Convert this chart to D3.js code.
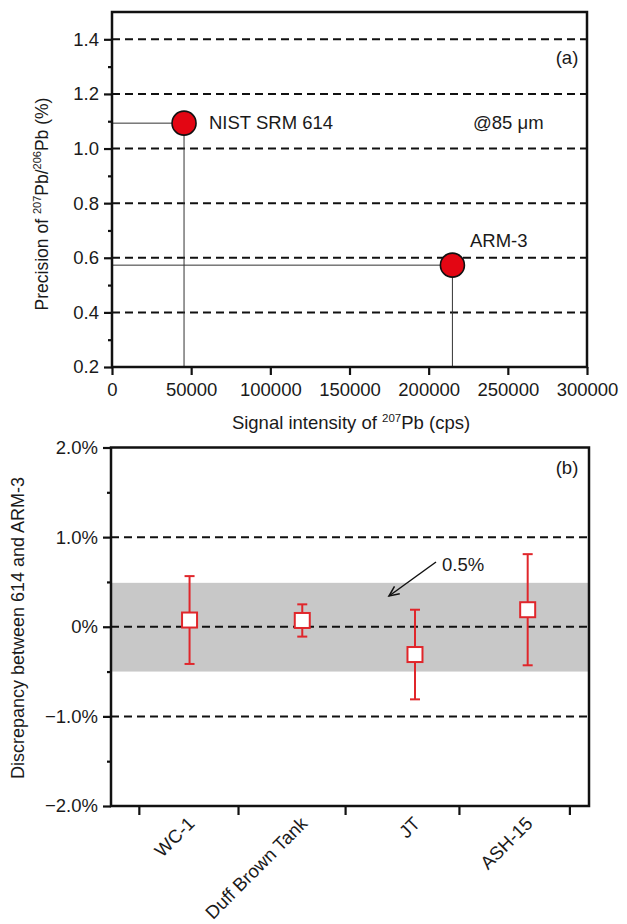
<!DOCTYPE html>
<html>
<head>
<meta charset="utf-8">
<script src="https://cdn.jsdelivr.net/npm/d3@7"></script>
<style>
  html, body { margin: 0; padding: 0; background: #fff; }
  svg { display: block; font-family: "Liberation Sans", Arial, sans-serif; }
  text { fill: #1a1a1a; }
</style>
</head>
<body>
<svg id="chart" width="627" height="924"></svg>
<script>
// ---------- Panel (a) data ----------
const refNames = ["NIST SRM 614", "ARM-3"];
const signalCps = [45500, 215000];
const precisionPct = [1.093, 0.573];
const xTicksA = [0, 50000, 100000, 150000, 200000, 250000, 300000];
const yTicksA = [0.2, 0.4, 0.6, 0.8, 1.0, 1.2, 1.4];
const yMinorA = [0.3, 0.5, 0.7, 0.9, 1.1, 1.3];
const gridA = [0.4, 0.6, 0.8, 1.0, 1.2, 1.4];

// ---------- Panel (b) data ----------
const samples = ["WC-1", "Duff Brown Tank", "JT", "ASH-15"];
const samplePos = [1, 2, 3, 4];
const discrepancy = [0.075, 0.07, -0.31, 0.19];
const errHalf = [0.49, 0.18, 0.50, 0.62];
const band = [-0.5, 0.49];
const xTickPosB = [0.55, 1.43, 2.38, 3.39, 4.37];
const yTicksB = [-2, -1, 0, 1, 2];
const yTickLabelsB = ["\u22122.0%", "\u22121.0%", "0%", "1.0%", "2.0%"];
const yMinorB = [-1.5, -0.5, 0.5, 1.5];
const gridB = [-1, 0, 1];

const svg = d3.select("#chart");
const FS = 18.5;
const RED = "#e30613";
const ERR = "#e0262b";

// ================= Panel (a) =================
const xA = d3.scaleLinear().domain([0, 300000]).range([112, 587]);
const yA = d3.scaleLinear().domain([0.2, 1.5]).range([367, 12]);
const gA = svg.append("g");

gA.selectAll("line.grid").data(gridA).join("line")
  .attr("x1", xA(0)).attr("x2", xA(300000))
  .attr("y1", d => yA(d)).attr("y2", d => yA(d))
  .attr("stroke", "#111").attr("stroke-width", 2).attr("stroke-dasharray", "8,5");

refNames.forEach((n, i) => {
  gA.append("line").attr("x1", xA(0)).attr("x2", xA(signalCps[i]))
    .attr("y1", yA(precisionPct[i])).attr("y2", yA(precisionPct[i]))
    .attr("stroke", "#333").attr("stroke-width", 1);
  gA.append("line").attr("x1", xA(signalCps[i])).attr("x2", xA(signalCps[i]))
    .attr("y1", yA(precisionPct[i])).attr("y2", yA(0.2))
    .attr("stroke", "#333").attr("stroke-width", 1);
});

const axA_x = d3.axisBottom(xA).tickValues(xTicksA).tickFormat(d3.format("d")).tickSize(8).tickSizeOuter(0).tickPadding(8);
const axA_y = d3.axisLeft(yA).tickValues(yTicksA).tickFormat(d3.format(".1f")).tickSize(8).tickSizeOuter(0).tickPadding(5);
const gxA = gA.append("g").attr("transform", `translate(0,${yA(0.2)})`).call(axA_x);
const gyA = gA.append("g").attr("transform", `translate(${xA(0)},0)`).call(axA_y);
gA.append("g").attr("transform", `translate(${xA(0)},0)`)
  .call(d3.axisLeft(yA).tickValues(yMinorA).tickFormat("").tickSize(4).tickSizeOuter(0));
[gxA, gyA].forEach(g => {
  g.selectAll("text").attr("font-size", FS).attr("fill", "#1a1a1a").attr("font-family", "Liberation Sans, Arial, sans-serif");
});
gA.selectAll(".tick line").attr("stroke", "#111").attr("stroke-width", 2.2);
gA.selectAll(".domain").attr("stroke", "none");

gA.append("rect").attr("x", xA(0)).attr("y", yA(1.5))
  .attr("width", xA(300000) - xA(0)).attr("height", yA(0.2) - yA(1.5))
  .attr("fill", "none").attr("stroke", "#111").attr("stroke-width", 2.5);

gA.selectAll("circle.pt").data(refNames).join("circle")
  .attr("cx", (d, i) => xA(signalCps[i])).attr("cy", (d, i) => yA(precisionPct[i]))
  .attr("r", 12).attr("fill", RED).attr("stroke", "#111").attr("stroke-width", 1.6);

gA.append("text").attr("x", 209).attr("y", 129).attr("font-size", FS).text(refNames[0]);
gA.append("text").attr("x", 470).attr("y", 247).attr("font-size", FS).text(refNames[1]);
gA.append("text").attr("x", 473).attr("y", 129).attr("font-size", FS).text("@85 \u03bcm");
gA.append("text").attr("x", 567).attr("y", 64).attr("font-size", FS).attr("text-anchor", "middle").text("(a)");

const xtA = gA.append("text").attr("x", 351).attr("y", 429).attr("font-size", FS).attr("text-anchor", "middle");
xtA.append("tspan").text("Signal intensity of ");
xtA.append("tspan").attr("font-size", 11.5).attr("dy", -7).text("207");
xtA.append("tspan").attr("dy", 7).text("Pb (cps)");

const ytA = gA.append("text").attr("transform", "translate(48,204) rotate(-90)").attr("font-size", 17.5).attr("text-anchor", "middle");
ytA.append("tspan").text("Precision of ");
ytA.append("tspan").attr("font-size", 11).attr("dy", -7).text("207");
ytA.append("tspan").attr("dy", 7).text("Pb/");
ytA.append("tspan").attr("font-size", 11).attr("dy", -7).text("206");
ytA.append("tspan").attr("dy", 7).text("Pb (%)");

// ================= Panel (b) =================
const xB = d3.scaleLinear().domain([0.303, 4.544]).range([111, 589]);
const yB = d3.scaleLinear().domain([-2, 2]).range([806, 447.5]);
const gB = svg.append("g");

gB.append("rect").attr("x", xB(0.303)).attr("y", yB(band[1]))
  .attr("width", xB(4.544) - xB(0.303)).attr("height", yB(band[0]) - yB(band[1]))
  .attr("fill", "#c8c8c8");

gB.selectAll("line.grid").data(gridB).join("line")
  .attr("x1", xB(0.303)).attr("x2", xB(4.544))
  .attr("y1", d => yB(d)).attr("y2", d => yB(d))
  .attr("stroke", "#111").attr("stroke-width", 2).attr("stroke-dasharray", "8,5");

const axB_y = d3.axisLeft(yB).tickValues(yTicksB).tickFormat((d, i) => yTickLabelsB[i]).tickSize(8).tickSizeOuter(0).tickPadding(5);
const gyB = gB.append("g").attr("transform", `translate(${xB(0.303)},0)`).call(axB_y);
gB.append("g").attr("transform", `translate(${xB(0.303)},0)`)
  .call(d3.axisLeft(yB).tickValues(yMinorB).tickFormat("").tickSize(4).tickSizeOuter(0));
gB.append("g").attr("transform", `translate(0,${yB(-2)})`)
  .call(d3.axisBottom(xB).tickValues(xTickPosB).tickFormat("").tickSize(9).tickSizeOuter(0));
const gxB = gB.append("g").attr("transform", `translate(0,${yB(-2)})`)
  .call(d3.axisBottom(xB).tickValues(samplePos).tickFormat((d, i) => samples[i]).tickSize(0).tickSizeOuter(0));
gxB.selectAll("text")
  .attr("text-anchor", "end")
  .attr("dy", "0.35em")
  .attr("transform", "translate(-1,12) rotate(-45)");
gyB.selectAll("text").attr("font-size", FS);
gxB.selectAll("text").attr("font-size", 18.5);
gB.selectAll("text").attr("fill", "#1a1a1a").attr("font-family", "Liberation Sans, Arial, sans-serif");
gB.selectAll(".tick line").attr("stroke", "#111").attr("stroke-width", 2.2);
gB.selectAll(".domain").attr("stroke", "none");

gB.append("rect").attr("x", xB(0.303)).attr("y", yB(2))
  .attr("width", xB(4.544) - xB(0.303)).attr("height", yB(-2) - yB(2))
  .attr("fill", "none").attr("stroke", "#111").attr("stroke-width", 2.5);

const eb = gB.selectAll("g.eb").data(samples).join("g");
eb.append("line")
  .attr("x1", (d, i) => xB(samplePos[i])).attr("x2", (d, i) => xB(samplePos[i]))
  .attr("y1", (d, i) => yB(discrepancy[i] + errHalf[i])).attr("y2", (d, i) => yB(discrepancy[i] - errHalf[i]))
  .attr("stroke", ERR).attr("stroke-width", 2);
eb.append("line")
  .attr("x1", (d, i) => xB(samplePos[i]) - 5).attr("x2", (d, i) => xB(samplePos[i]) + 5)
  .attr("y1", (d, i) => yB(discrepancy[i] + errHalf[i])).attr("y2", (d, i) => yB(discrepancy[i] + errHalf[i]))
  .attr("stroke", ERR).attr("stroke-width", 2);
eb.append("line")
  .attr("x1", (d, i) => xB(samplePos[i]) - 5).attr("x2", (d, i) => xB(samplePos[i]) + 5)
  .attr("y1", (d, i) => yB(discrepancy[i] - errHalf[i])).attr("y2", (d, i) => yB(discrepancy[i] - errHalf[i]))
  .attr("stroke", ERR).attr("stroke-width", 2);
eb.append("rect")
  .attr("x", (d, i) => xB(samplePos[i]) - 7.5).attr("y", (d, i) => yB(discrepancy[i]) - 7.5)
  .attr("width", 15).attr("height", 15)
  .attr("fill", "#fff").attr("stroke", ERR).attr("stroke-width", 2);

const arrowFrom = [436, 562], arrowTo = [389, 596];
gB.append("line").attr("x1", arrowFrom[0]).attr("y1", arrowFrom[1]).attr("x2", arrowTo[0]).attr("y2", arrowTo[1])
  .attr("stroke", "#111").attr("stroke-width", 1.5);
(function () {
  const ang = Math.atan2(arrowTo[1] - arrowFrom[1], arrowTo[0] - arrowFrom[0]);
  const L = 11, spread = 0.42;
  const p1 = [arrowTo[0] - L * Math.cos(ang - spread), arrowTo[1] - L * Math.sin(ang - spread)];
  const p2 = [arrowTo[0] - L * Math.cos(ang + spread), arrowTo[1] - L * Math.sin(ang + spread)];
  gB.append("path").attr("d", `M${p1[0]},${p1[1]} L${arrowTo[0]},${arrowTo[1]} L${p2[0]},${p2[1]}`)
    .attr("fill", "none").attr("stroke", "#111").attr("stroke-width", 1.5);
})();
gB.append("text").attr("x", 442).attr("y", 571).attr("font-size", FS).text("0.5%");
gB.append("text").attr("x", 567).attr("y", 474).attr("font-size", FS).attr("text-anchor", "middle").text("(b)");

gB.append("text").attr("transform", "translate(24,628) rotate(-90)").attr("font-size", 18).attr("text-anchor", "middle")
  .text("Discrepancy between 614 and ARM-3");
</script>
</body>
</html>
